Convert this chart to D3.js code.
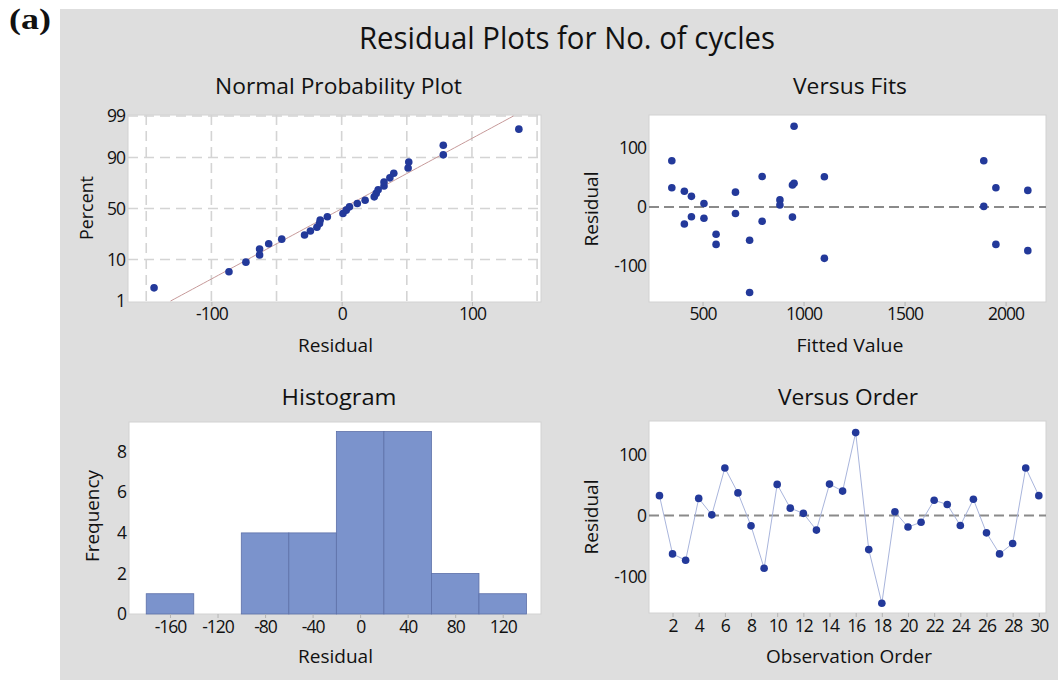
<!DOCTYPE html>
<html>
<head>
<meta charset="utf-8">
<script src="https://cdn.jsdelivr.net/npm/d3@7"></script>
<style>
  html, body { margin: 0; padding: 0; background: #ffffff; }
  svg { display: block; }
  text { font-family: "Open Sans", "Noto Sans", "DejaVu Sans", sans-serif; fill: #111111; }
</style>
</head>
<body>
<svg id="chart" width="1058" height="680"></svg>
<script>
// Residuals in observation order (No. of cycles model)
const residuals = [32.5, -63, -73.5, 28, 1, 78, 37, -17, -86.5, 51,
                   12, 3.5, -24, 51.5, 40, 136, -56, -144, 6, -19,
                   -11, 25, 18, -16.5, 26.5, -28.5, -63, -46, 78, 32.5];
// Fitted values, same order
const fitted = [1952, 1952, 2110, 2110, 1892, 1892, 945, 945, 1103, 1103,
                883, 883, 795, 795, 953, 953, 733, 733, 507, 507,
                663, 663, 445, 445, 410, 410, 567, 567, 348, 348];
const observations = d3.range(1, residuals.length + 1);

// Tick labels / bin edges
const percentTicks = [1, 10, 50, 90, 99];
const npResidualTicks = [-100, 0, 100];
const npGridResiduals = [-150, -100, -50, 0, 50, 100, 150];
const residualTicks = [-100, 0, 100];
const fittedTicks = [500, 1000, 1500, 2000];
const binEdges = [-180, -140, -100, -60, -20, 20, 60, 100, 140];
const histXTicks = [-160, -120, -80, -40, 0, 40, 80, 120];
const histYTicks = [0, 2, 4, 6, 8];
const orderTicks = [2, 4, 6, 8, 10, 12, 14, 16, 18, 20, 22, 24, 26, 28, 30];

const svg = d3.select("#chart");
const DOT = "#23399a";
const TICK_FS = 17.5;
const fmt = d => String(d);   // plain hyphen for negatives

// inverse standard normal CDF (Acklam)
function qnorm(p) {
  const a = [-3.969683028665376e+01, 2.209460984245205e+02, -2.759285104469687e+02, 1.383577518672690e+02, -3.066479806614716e+01, 2.506628277459239e+00];
  const b = [-5.447609879822406e+01, 1.615858368580409e+02, -1.556989798598866e+02, 6.680131188771972e+01, -1.328068155288572e+01];
  const c = [-7.784894002430293e-03, -3.223964580411365e-01, -2.400758277161838e+00, -2.549732539343734e+00, 4.374664141464968e+00, 2.938163982698783e+00];
  const d = [7.784695709041462e-03, 3.224671290700398e-01, 2.445134137142996e+00, 3.754408661907416e+00];
  const pl = 0.02425, ph = 1 - pl;
  let q, r;
  if (p < pl) {
    q = Math.sqrt(-2 * Math.log(p));
    return (((((c[0]*q+c[1])*q+c[2])*q+c[3])*q+c[4])*q+c[5]) / ((((d[0]*q+d[1])*q+d[2])*q+d[3])*q+1);
  }
  if (p <= ph) {
    q = p - 0.5; r = q*q;
    return (((((a[0]*r+a[1])*r+a[2])*r+a[3])*r+a[4])*r+a[5])*q / (((((b[0]*r+b[1])*r+b[2])*r+b[3])*r+b[4])*r+1);
  }
  q = Math.sqrt(-2 * Math.log(1 - p));
  return -(((((c[0]*q+c[1])*q+c[2])*q+c[3])*q+c[4])*q+c[5]) / ((((d[0]*q+d[1])*q+d[2])*q+d[3])*q+1);
}

// background panel
svg.append("rect").attr("x", 0).attr("y", 0).attr("width", 1058).attr("height", 680).attr("fill", "#ffffff");
svg.append("rect").attr("x", 60).attr("y", 9).attr("width", 998).attr("height", 671).attr("fill", "#dedede");

svg.append("text").attr("x", 9).attr("y", 29)
  .attr("textLength", 42).attr("lengthAdjust", "spacingAndGlyphs")
  .style("font-family", "'Liberation Serif', 'Times New Roman', serif")
  .style("font-weight", "bold").style("font-size", "30px").text("(a)");

function label(x, y, txt, size, len, rotate) {
  const t = svg.append("text")
    .attr("text-anchor", "middle")
    .style("font-size", size + "px")
    .attr("textLength", len).attr("lengthAdjust", "spacingAndGlyphs")
    .text(txt);
  if (rotate) t.attr("transform", `translate(${x},${y}) rotate(-90)`);
  else t.attr("x", x).attr("y", y);
  return t;
}

label(567, 49, "Residual Plots for No. of cycles", 31, 416);

function frame(x0, y0, x1, y1) {
  svg.append("rect").attr("x", x0).attr("y", y0).attr("width", x1 - x0).attr("height", y1 - y0)
    .attr("fill", "#ffffff").attr("stroke", "#d2d2d2").attr("stroke-width", 1);
}

function styleAxis(g) {
  g.select(".domain").remove();
  g.selectAll(".tick line").attr("stroke", "#b4b4b4");
  g.selectAll(".tick text").attr("fill", "#111111")
    .style("font-size", TICK_FS + "px").style("letter-spacing", "-1px")
    .style("font-family", "'Open Sans', 'Noto Sans', sans-serif");
}

// ---------- Normal Probability Plot ----------
{
  const L = 128, R = 541, T = 115, B = 302;
  frame(L, T, R, B);
  const x = d3.scaleLinear().domain([-164, 153]).range([L, R]);
  const y = d3.scaleLinear().domain([-2.35, 2.35]).range([B, T]);
  const grid = svg.append("g");
  grid.selectAll("line.v").data(npGridResiduals).join("line")
    .attr("x1", d => x(d)).attr("x2", d => x(d)).attr("y1", T).attr("y2", B)
    .attr("stroke", "#d4d4d4").attr("stroke-width", 1.6).attr("stroke-dasharray", "10,6");
  grid.selectAll("line.h").data(percentTicks.slice(1)).join("line")
    .attr("x1", L).attr("x2", R).attr("y1", d => y(qnorm(d / 100))).attr("y2", d => y(qnorm(d / 100)))
    .attr("stroke", "#d4d4d4").attr("stroke-width", 1.6).attr("stroke-dasharray", "10,6");

  // fitted normal line from residual mean and standard deviation
  const mu = d3.mean(residuals), sd = d3.deviation(residuals);
  const zs = d3.range(-2.326, 2.3265, 0.05);
  svg.append("path")
    .attr("d", d3.line().x(z => x(mu + sd * z)).y(z => y(z))(zs))
    .attr("fill", "none").attr("stroke", "#c79a9a").attr("stroke-width", 1);

  const n = residuals.length;
  const sorted = residuals.slice().sort((a, b) => a - b);
  svg.append("g").selectAll("circle").data(sorted).join("circle")
    .attr("cx", d => x(d)).attr("cy", (d, i) => y(qnorm((i + 1 - 0.3) / (n + 0.4))))
    .attr("r", 3.8).attr("fill", DOT);

  svg.append("g").attr("transform", `translate(0,${B})`)
    .call(d3.axisBottom(x).tickValues(npResidualTicks).tickSize(4).tickPadding(2).tickFormat(fmt))
    .call(styleAxis);
  svg.append("g").selectAll("text").data(percentTicks).join("text")
    .attr("x", L - 3).attr("y", d => y(qnorm(d / 100))).attr("dy", "0.35em")
    .attr("text-anchor", "end").style("font-size", TICK_FS + "px").style("letter-spacing", "-1px")
    .text(fmt);

  label(338.5, 94, "Normal Probability Plot", 22, 247);
  label(335.5, 352, "Residual", 18.5, 75);
  label(93, 208, "Percent", 18.5, 64, true);
}

// ---------- Versus Fits ----------
{
  const L = 649, R = 1046, T = 115, B = 302;
  frame(L, T, R, B);
  const x = d3.scaleLinear().domain([235, 2200]).range([L, R]);
  const y = d3.scaleLinear().domain([-160, 155]).range([B, T]);
  svg.append("line").attr("x1", L).attr("x2", R).attr("y1", y(0)).attr("y2", y(0))
    .attr("stroke", "#8a8a8a").attr("stroke-width", 2).attr("stroke-dasharray", "10,5");
  svg.append("g").selectAll("circle").data(residuals).join("circle")
    .attr("cx", (d, i) => x(fitted[i])).attr("cy", d => y(d))
    .attr("r", 3.8).attr("fill", DOT);
  svg.append("g").attr("transform", `translate(0,${B})`)
    .call(d3.axisBottom(x).tickValues(fittedTicks).tickSize(4).tickPadding(2).tickFormat(fmt))
    .call(styleAxis);
  svg.append("g").attr("transform", `translate(${L},0)`)
    .call(d3.axisLeft(y).tickValues(residualTicks).tickSize(0).tickPadding(3).tickFormat(fmt))
    .call(styleAxis);
  label(850, 94, "Versus Fits", 22, 114);
  label(850, 352, "Fitted Value", 18.5, 107);
  label(598, 209, "Residual", 18.5, 75, true);
}

// ---------- Histogram ----------
{
  const L = 129, R = 541, T = 422, B = 614;
  frame(L, T, R, B);
  const x = d3.scaleLinear().domain([-194.5, 152.2]).range([L, R]);
  const y = d3.scaleLinear().domain([0, 9.47]).range([B, T]);
  const bins = d3.bin().domain([binEdges[0], binEdges[binEdges.length - 1]]).thresholds(binEdges.slice(1, -1))(residuals);
  svg.append("g").selectAll("rect").data(bins.filter(b => b.length > 0)).join("rect")
    .attr("x", b => x(b.x0)).attr("width", b => x(b.x1) - x(b.x0))
    .attr("y", b => y(b.length)).attr("height", b => y(0) - y(b.length))
    .attr("fill", "#7b93cc").attr("stroke", "#5d70a8").attr("stroke-width", 0.8);
  svg.append("g").attr("transform", `translate(0,${B})`)
    .call(d3.axisBottom(x).tickValues(histXTicks).tickSize(4).tickPadding(3).tickFormat(fmt))
    .call(styleAxis);
  svg.append("g").attr("transform", `translate(${L},0)`)
    .call(d3.axisLeft(y).tickValues(histYTicks).tickSize(0).tickPadding(3).tickFormat(fmt))
    .call(styleAxis);
  label(339, 405, "Histogram", 22, 115);
  label(335.5, 663, "Residual", 18.5, 75);
  label(99, 516, "Frequency", 18.5, 92, true);
}

// ---------- Versus Order ----------
{
  const L = 649, R = 1046, T = 421, B = 613;
  frame(L, T, R, B);
  const x = d3.scaleLinear().domain([0.2, 30.55]).range([L, R]);
  const y = d3.scaleLinear().domain([-160, 155]).range([B, T]);
  svg.append("line").attr("x1", L).attr("x2", R).attr("y1", y(0)).attr("y2", y(0))
    .attr("stroke", "#8a8a8a").attr("stroke-width", 2).attr("stroke-dasharray", "10,5");
  svg.append("path")
    .attr("d", d3.line().x((d, i) => x(observations[i])).y(d => y(d))(residuals))
    .attr("fill", "none").attr("stroke", "#a9b5dc").attr("stroke-width", 1);
  svg.append("g").selectAll("circle").data(residuals).join("circle")
    .attr("cx", (d, i) => x(observations[i])).attr("cy", d => y(d))
    .attr("r", 3.8).attr("fill", DOT);
  svg.append("g").attr("transform", `translate(0,${B})`)
    .call(d3.axisBottom(x).tickValues(orderTicks).tickSize(4).tickPadding(3).tickFormat(fmt))
    .call(styleAxis);
  svg.append("g").attr("transform", `translate(${L},0)`)
    .call(d3.axisLeft(y).tickValues(residualTicks).tickSize(0).tickPadding(3).tickFormat(fmt))
    .call(styleAxis);
  label(848, 405, "Versus Order", 22, 140);
  label(849, 663, "Observation Order", 18.5, 166);
  label(598, 517, "Residual", 18.5, 75, true);
}
</script>
</body>
</html>
